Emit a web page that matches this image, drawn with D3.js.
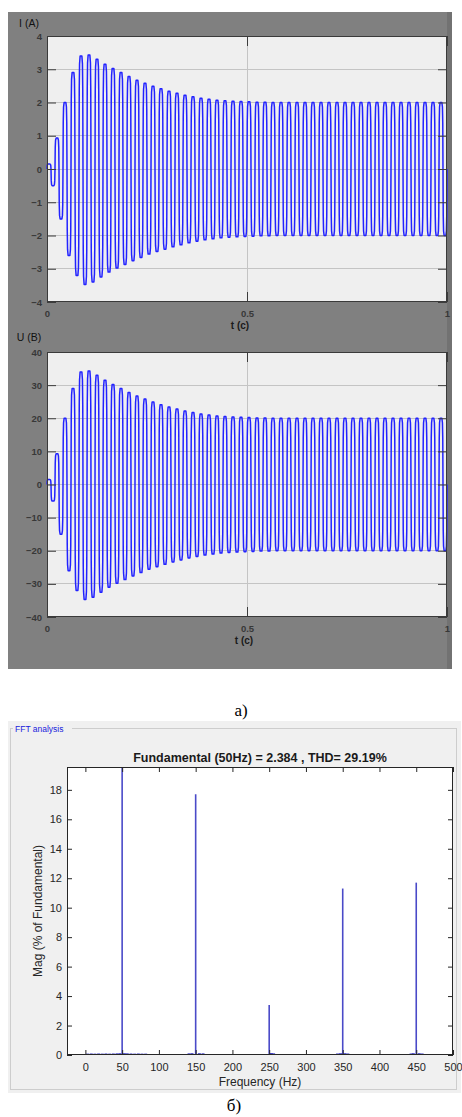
<!DOCTYPE html>
<html><head><meta charset="utf-8">
<script src="https://cdn.jsdelivr.net/npm/d3@7"></script>
<style>body{margin:0;background:#fff} svg{display:block}</style>
</head><body>
<svg id="c" width="462" height="1117"></svg>
<script>
// ---------- data ----------
const timeTicks = [0, 0.5, 1];
const iTicks = [-4, -3, -2, -1, 0, 1, 2, 3, 4];
const uTicks = [-40, -30, -20, -10, 0, 10, 20, 30, 40];
// per-cycle peak of the positive / negative half-wave (50 Hz, 50 cycles in 1 s)
const iPos = [0.15, 0.93, 2.0, 2.9, 3.4, 3.43, 3.3, 3.15, 3.02, 2.9,
              2.78, 2.67, 2.58, 2.49, 2.41, 2.34, 2.28, 2.22, 2.17, 2.13,
              2.1, 2.07, 2.05, 2.04, 2.03, 2.02, 2.01, 2.01, 2.0, 2.0,
              2.0, 2.0, 2.0, 2.0, 2.0, 2.0, 2.0, 2.0, 2.0, 2.0,
              2.0, 2.0, 2.0, 2.0, 2.0, 2.0, 2.0, 2.0, 2.0, 2.0];
const iNeg = [-0.5, -1.5, -2.6, -3.2, -3.47, -3.4, -3.25, -3.1, -2.98, -2.87,
              -2.76, -2.66, -2.56, -2.48, -2.41, -2.34, -2.28, -2.22, -2.17, -2.13,
              -2.1, -2.07, -2.05, -2.04, -2.03, -2.02, -2.01, -2.01, -2.0, -2.0,
              -2.0, -2.0, -2.0, -2.0, -2.0, -2.0, -2.0, -2.0, -2.0, -2.0,
              -2.0, -2.0, -2.0, -2.0, -2.0, -2.0, -2.0, -2.0, -2.0, -2.0];
const uPos = [1.5, 9.3, 20, 29, 34, 34.3, 33, 31.5, 30.2, 29,
              27.8, 26.7, 25.8, 24.9, 24.1, 23.4, 22.8, 22.2, 21.7, 21.3,
              21, 20.7, 20.5, 20.4, 20.3, 20.2, 20.1, 20.1, 20, 20,
              20, 20, 20, 20, 20, 20, 20, 20, 20, 20,
              20, 20, 20, 20, 20, 20, 20, 20, 20, 20];
const uNeg = [-5, -15, -26, -32, -34.7, -34, -32.5, -31, -29.8, -28.7,
              -27.6, -26.6, -25.6, -24.8, -24.1, -23.4, -22.8, -22.2, -21.7, -21.3,
              -21, -20.7, -20.5, -20.4, -20.3, -20.2, -20.1, -20.1, -20, -20,
              -20, -20, -20, -20, -20, -20, -20, -20, -20, -20,
              -20, -20, -20, -20, -20, -20, -20, -20, -20, -20];
// normalised shape of one half-wave (phase 0..1, fraction of the peak)
const halfPhase = [0, 0.06, 0.14, 0.28, 0.72, 0.86, 0.94, 1];
const halfShape = [0, 0.7, 0.93, 1, 1, 0.93, 0.7, 0];

const freqTicks = [0, 50, 100, 150, 200, 250, 300, 350, 400, 450, 500];
const magTicks = [0, 2, 4, 6, 8, 10, 12, 14, 16, 18];
const harmFreq = [50, 150, 250, 350, 450];
const harmMag = [100, 17.7, 3.4, 11.3, 11.7];
const smallFreq = [3, 8, 13, 18, 23, 28, 33, 38, 43, 47, 53, 57, 62, 67, 72, 77, 82,
                   141, 145, 155, 160, 253, 256, 343, 347, 353, 357, 443, 446, 454, 458];
const smallMag = [0.06, 0.07, 0.06, 0.07, 0.06, 0.07, 0.06, 0.07, 0.08, 0.09, 0.09, 0.08, 0.07, 0.06, 0.07, 0.06, 0.06,
                  0.08, 0.09, 0.09, 0.08, 0.1, 0.08, 0.07, 0.09, 0.09, 0.07, 0.07, 0.09, 0.09, 0.07];

// ---------- drawing ----------
const svg = d3.select("#c");
const FONT = "Arial, 'Liberation Sans', sans-serif";

// scope background
svg.append("rect").attr("x", 8).attr("y", 12).attr("width", 444).attr("height", 657).attr("fill", "#808080");
svg.append("rect").attr("x", 447).attr("y", 12).attr("width", 5).attr("height", 657).attr("fill", "#727272");

function wavePoints(pos, neg) {
  const pts = [];
  pos.forEach((p, k) => {
    const t0 = k * 0.02;
    halfPhase.forEach((ph, j) => { if (!(k > 0 && j === 0)) pts.push([t0 + ph * 0.01, p * halfShape[j]]); });
    halfPhase.forEach((ph, j) => { if (j > 0) pts.push([t0 + 0.01 + ph * 0.01, neg[k] * halfShape[j]]); });
  });
  return pts;
}

function scope(top, bottom, ticks, pos, neg, yLabel, yLabelPos, tLabelX) {
  const x = d3.scaleLinear().domain([0, 1]).range([47, 447]);
  const y = d3.scaleLinear().domain([ticks[0], ticks[ticks.length - 1]]).range([bottom, top]);
  const g = svg.append("g");
  g.append("rect").attr("x", 47).attr("y", top).attr("width", 400).attr("height", bottom - top).attr("fill", "#efefef");
  // grid
  g.append("g").selectAll("line").data(ticks.slice(1, -1)).join("line")
    .attr("x1", 47).attr("x2", 447).attr("y1", d => y(d)).attr("y2", d => y(d))
    .attr("stroke", "#c4c4c4").attr("stroke-width", 1).attr("shape-rendering", "crispEdges");
  g.append("g").selectAll("line").data(timeTicks.slice(1, -1)).join("line")
    .attr("x1", d => x(d)).attr("x2", d => x(d)).attr("y1", top).attr("y2", bottom)
    .attr("stroke", "#c4c4c4").attr("stroke-width", 1).attr("shape-rendering", "crispEdges");
  // waveform
  const line = d3.line().x(d => x(d[0])).y(d => y(d[1]));
  g.append("path").datum(wavePoints(pos, neg)).attr("d", line)
    .attr("fill", "none").attr("stroke", "#2222ff").attr("stroke-width", 1.5).attr("stroke-linejoin", "round");
  // axes
  const ax = (a, tr) => {
    const gg = g.append("g").attr("transform", tr).call(a);
    gg.select(".domain").remove();
    gg.selectAll("line").attr("stroke", "#3c3c3c");
    gg.selectAll("text").attr("font-family", FONT).attr("font-size", 9.5).attr("font-weight", "bold").attr("fill", "#383838");
    return gg;
  };
  ax(d3.axisLeft(y).tickValues(ticks).tickSizeInner(-9).tickSizeOuter(0).tickPadding(5), "translate(47,0)");
  ax(d3.axisRight(y).tickValues(ticks).tickSizeInner(-9).tickSizeOuter(0).tickFormat(""), "translate(447,0)");
  ax(d3.axisBottom(x).tickValues(timeTicks).tickSizeInner(-10).tickSizeOuter(0).tickPadding(8).tickFormat(d3.format("~g")), `translate(0,${bottom})`);
  ax(d3.axisTop(x).tickValues(timeTicks).tickSizeInner(-10).tickSizeOuter(0).tickFormat(""), `translate(0,${top})`);
  g.append("rect").attr("x", 47.5).attr("y", top + 0.5).attr("width", 399).attr("height", bottom - top - 1)
    .attr("fill", "none").attr("stroke", "#3a3a3a").attr("stroke-width", 1);
  g.append("text").attr("x", 29).attr("y", yLabelPos).attr("text-anchor", "middle")
    .attr("font-family", FONT).attr("font-size", 10.5).attr("fill", "#111").text(yLabel);
  g.append("text").attr("x", tLabelX).attr("y", bottom + 27).attr("text-anchor", "middle")
    .attr("font-family", FONT).attr("font-size", 10).attr("font-weight", "bold").attr("fill", "#1a1a1a").text("t (c)");
}

scope(36, 302, iTicks, iPos, iNeg, "I (A)", 27, 240);
scope(352, 617, uTicks, uPos, uNeg, "U (B)", 341, 244);

// caption a)
svg.append("text").attr("x", 241).attr("y", 716).attr("text-anchor", "middle")
  .attr("font-family", "'Liberation Serif', 'Times New Roman', serif").attr("font-size", 17).attr("fill", "#000").text("а)");

// FFT panel
svg.append("rect").attr("x", 8).attr("y", 721).attr("width", 453).attr("height", 372).attr("fill", "#f0f0f0");
svg.append("rect").attr("x", 10.5).attr("y", 728.5).attr("width", 446).attr("height", 361)
  .attr("fill", "none").attr("stroke", "#cdcdcd").attr("stroke-width", 1);
svg.append("rect").attr("x", 13).attr("y", 723).attr("width", 59).attr("height", 12).attr("fill", "#f0f0f0");
svg.append("text").attr("x", 15).attr("y", 732).attr("font-family", FONT).attr("font-size", 8.5)
  .attr("fill", "#1a1adc").text("FFT analysis");

const fx = d3.scaleLinear().domain([-25, 500]).range([67, 453]);
const fy = d3.scaleLinear().domain([0, 19.55]).range([1055, 767]);
svg.append("defs").append("clipPath").attr("id", "fclip").append("rect")
  .attr("x", 67).attr("y", 767).attr("width", 386).attr("height", 288);
svg.append("rect").attr("x", 67).attr("y", 767).attr("width", 386).attr("height", 288).attr("fill", "#fff");

const bars = svg.append("g").attr("clip-path", "url(#fclip)");
bars.selectAll("line.s").data(smallFreq).join("line").attr("class", "s")
  .attr("x1", d => fx(d)).attr("x2", d => fx(d)).attr("y1", fy(0)).attr("y2", (d, i) => fy(smallMag[i]) - 0.5)
  .attr("stroke", "#4040c8").attr("stroke-width", 3);
bars.selectAll("line.h").data(harmFreq).join("line").attr("class", "h")
  .attr("x1", d => fx(d)).attr("x2", d => fx(d)).attr("y1", fy(0)).attr("y2", (d, i) => fy(harmMag[i]))
  .attr("stroke", "#4a4ac8").attr("stroke-width", 1.6);

const fax = (a, tr) => {
  const gg = svg.append("g").attr("transform", tr).call(a);
  gg.select(".domain").remove();
  gg.selectAll("line").attr("stroke", "#262626");
  gg.selectAll("text").attr("font-family", FONT).attr("font-size", 11).attr("fill", "#262626");
  return gg;
};
fax(d3.axisLeft(fy).tickValues(magTicks).tickSizeInner(-5).tickSizeOuter(0).tickPadding(5), "translate(67,0)");
fax(d3.axisRight(fy).tickValues(magTicks).tickSizeInner(-5).tickSizeOuter(0).tickFormat(""), "translate(453,0)");
fax(d3.axisBottom(fx).tickValues(freqTicks).tickSizeInner(-5).tickSizeOuter(0).tickPadding(8), "translate(0,1055)");
fax(d3.axisTop(fx).tickValues(freqTicks).tickSizeInner(-5).tickSizeOuter(0).tickFormat(""), "translate(0,767)");
svg.append("rect").attr("x", 67.5).attr("y", 767.5).attr("width", 385).attr("height", 287)
  .attr("fill", "none").attr("stroke", "#262626").attr("stroke-width", 1);

svg.append("text").attr("x", 260).attr("y", 762).attr("text-anchor", "middle")
  .attr("font-family", FONT).attr("font-size", 12.5).attr("font-weight", "bold").attr("fill", "#1a1a1a")
  .text("Fundamental (50Hz) = 2.384 , THD= 29.19%");
svg.append("text").attr("x", 260).attr("y", 1086).attr("text-anchor", "middle")
  .attr("font-family", FONT).attr("font-size", 12).attr("fill", "#262626").text("Frequency (Hz)");
svg.append("text").attr("transform", "translate(42,911) rotate(-90)").attr("text-anchor", "middle")
  .attr("font-family", FONT).attr("font-size", 12).attr("fill", "#262626").text("Mag (% of Fundamental)");

// caption б)
svg.append("text").attr("x", 234).attr("y", 1111).attr("text-anchor", "middle")
  .attr("font-family", "'Liberation Serif', 'Times New Roman', serif").attr("font-size", 17).attr("fill", "#000").text("б)");
</script>
</body></html>
